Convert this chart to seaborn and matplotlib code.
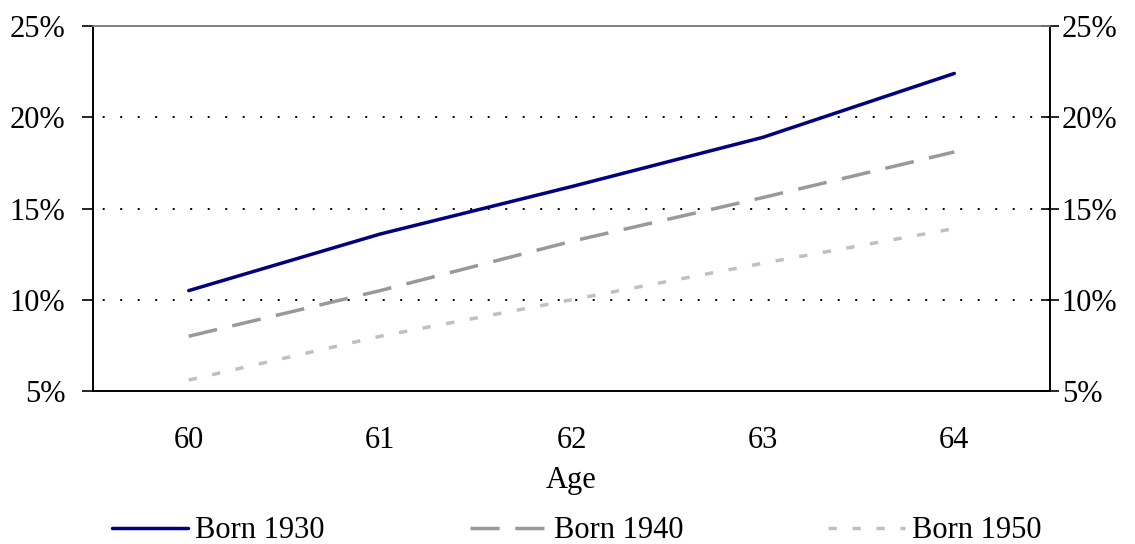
import pandas as pd
import seaborn as sns
import matplotlib.pyplot as plt
from matplotlib.ticker import FixedLocator, FuncFormatter

ages = [60, 61, 62, 63, 64]
born_1930 = [10.5, 13.6, 16.2, 18.9, 22.4]
born_1940 = [8.0, 10.5, 13.2, 15.6, 18.1]
born_1950 = [5.6, 8.0, 10.0, 12.0, 13.9]
series = ["Born 1930", "Born 1940", "Born 1950"]
y_ticks = [5, 10, 15, 20, 25]

df = pd.DataFrame({
    "Age": ages * 3,
    "Share": born_1930 + born_1940 + born_1950,
    "Cohort": [s for s in series for _ in ages],
})

sns.set_style("white")
plt.rcParams["font.family"] = ["Liberation Serif", "DejaVu Serif"]
plt.rcParams["text.color"] = "black"
plt.rcParams["xtick.color"] = "black"
plt.rcParams["ytick.color"] = "black"
plt.rcParams["axes.labelcolor"] = "black"
fs = 22

fig = plt.figure(figsize=(11.35, 5.44), dpi=100)
ax = fig.add_axes([93 / 1135, 1 - 391 / 544, (1050 - 93) / 1135, (391 - 26) / 544])

palette = {"Born 1930": "#000080", "Born 1940": "#999999", "Born 1950": "#c0c0c0"}
dashes = {"Born 1930": "", "Born 1940": (8.4, 4.5), "Born 1950": (2.4, 4.5)}
sns.lineplot(data=df, x="Age", y="Share", hue="Cohort", style="Cohort",
             palette=palette, dashes=dashes, linewidth=2.5, ax=ax, legend=True)

ax.set_xlim(59.5, 64.5)
ax.set_ylim(5, 25)

# horizontal dotted gridlines
for v in y_ticks[1:-1]:
    ax.axhline(v, color="black", linewidth=1.4, linestyle=(4, (1, 8)), zorder=0)

ax.xaxis.set_major_locator(FixedLocator(ages))
ax.xaxis.set_minor_locator(FixedLocator([a - 0.5 for a in ages] + [ages[-1] + 0.5]))
ax.tick_params(axis="x", which="major", length=0, pad=25, labelsize=fs)
ax.tick_params(axis="x", which="minor", length=8, width=1.2, direction="out", color="black")
ax.set_xlabel("Age", fontsize=fs, labelpad=8)
ax.set_ylabel("")

pct = FuncFormatter(lambda v, p: f"{v:.0f}%")
ax.set_yticks(y_ticks)
ax.yaxis.set_major_formatter(pct)
ax.tick_params(axis="y", length=8, width=1.2, direction="out", color="black",
               labelsize=fs, pad=12, left=True)

ax2 = ax.twinx()
ax2.set_ylim(5, 25)
ax2.set_yticks(y_ticks)
ax2.yaxis.set_major_formatter(pct)
ax2.tick_params(axis="y", length=13, width=1.2, direction="inout", color="black",
                labelsize=fs, pad=2)

for a in (ax, ax2):
    for side in ("left", "right", "bottom"):
        a.spines[side].set_color("black")
        a.spines[side].set_linewidth(1.2)
    a.spines["top"].set_color("#808080")
    a.spines["top"].set_linewidth(1.2)

handles, labels = ax.get_legend_handles_labels()
ax.get_legend().remove()
fig.legend(handles, labels, loc="center", bbox_to_anchor=(0.508, 0.024), ncol=3,
           frameon=False, fontsize=fs, handlelength=2.5, handletextpad=0.23,
           columnspacing=4.75, borderaxespad=0, borderpad=0)

fig.savefig("out.png", dpi=100)
